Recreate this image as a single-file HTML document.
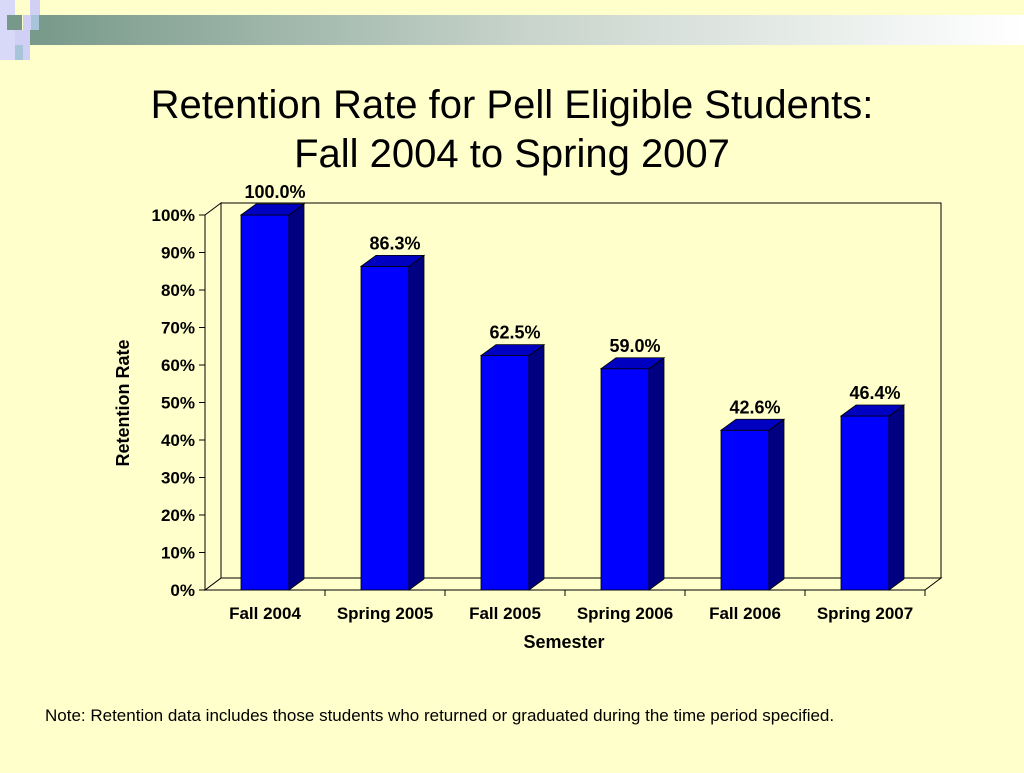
<!DOCTYPE html>
<html><head><meta charset="utf-8"><style>
body{margin:0;background:#ffffcc;width:1024px;height:768px;overflow:hidden;font-family:"Liberation Sans",sans-serif}
</style></head><body>
<svg width="1024" height="768">
<defs><linearGradient id="g" x1="0" x2="1"><stop offset="0" stop-color="#77998a"/><stop offset="0.5" stop-color="#c8d4cc"/><stop offset="1" stop-color="#ffffff"/></linearGradient></defs>
<g>
<rect x="30" y="15" width="994" height="30" fill="url(#g)"/>
<rect x="0" y="0" width="15" height="60" fill="#d8d8f8"/>
<rect x="7" y="15" width="15" height="15" fill="#77998a"/>
<rect x="15" y="30" width="15" height="30" fill="#d0d0f4"/>
<rect x="30" y="0" width="10" height="15" fill="#d0d0f4"/>
<rect x="23" y="15" width="8" height="15" fill="#d0d0f4"/>
<rect x="31" y="15" width="8" height="15" fill="#a8c4d8"/>
<rect x="15" y="45" width="8" height="15" fill="#a8c4d8"/>
</g>
<text x="512" y="118" text-anchor="middle" font-size="40">Retention Rate for Pell Eligible Students:</text>
<text x="512" y="167" text-anchor="middle" font-size="40">Fall 2004 to Spring 2007</text>
<g id="chart"></g>
<text x="129" y="403" transform="rotate(-90 129 403)" text-anchor="middle" font-size="18" font-weight="bold">Retention Rate</text>
<text x="564" y="648" text-anchor="middle" font-size="18" font-weight="bold">Semester</text>
<text x="45" y="721" font-size="17">Note: Retention data includes those students who returned or graduated during the time period specified.</text>
</svg>
<script>
const categories=["Fall 2004","Spring 2005","Fall 2005","Spring 2006","Fall 2006","Spring 2007"];
const values=[100.0,86.3,62.5,59.0,42.6,46.4];
const yTicks=[0,10,20,30,40,50,60,70,80,90,100];
const X0=205,W=720,Y0=590,H=375,DX=16,DY=12;
const ns="http://www.w3.org/2000/svg";
const g=document.getElementById('chart');
function y(v){return Y0-v/100*H;}
function xc(i){return X0+W/categories.length*(i+0.5);}
function mk(t,a,p){const e=document.createElementNS(ns,t);for(const k in a)e.setAttribute(k,a[k]);(p||g).appendChild(e);return e;}
let e;
e=mk('polygon',{points:`${X0+DX},${y(100)-DY} ${X0+W+DX},${y(100)-DY} ${X0+W+DX},${Y0-DY} ${X0+DX},${Y0-DY}`,fill:'#ffffcc',stroke:'#000'});


e=mk('polygon',{points:`${X0},${Y0} ${X0+DX},${Y0-DY} ${X0+W+DX},${Y0-DY} ${X0+W},${Y0}`,fill:'#ffffcc',stroke:'#000'});


e=mk('polygon',{points:`${X0},${Y0} ${X0+DX},${Y0-DY} ${X0+DX},${y(100)-DY} ${X0},${y(100)}`,fill:'#ffffcc',stroke:'#000'});


mk('line',{x1:X0,y1:Y0,x2:X0,y2:y(100),stroke:'#000'});
mk('line',{x1:X0,y1:Y0,x2:X0+W,y2:Y0,stroke:'#000'});
yTicks.forEach(v=>{
 mk('line',{x1:X0-6,y1:y(v),x2:X0,y2:y(v),stroke:'#000'});
 const t=mk('text',{x:X0-10,y:y(v)+6,'text-anchor':'end','font-size':17,'font-weight':'bold'});
 t.textContent=v+'%';
 
 
});
categories.forEach((c,i)=>{
 const xe=X0+W/categories.length*(i+1);
 mk('line',{x1:xe,y1:Y0,x2:xe,y2:Y0+6,stroke:'#000'});
 const t=mk('text',{x:xc(i),y:619,'text-anchor':'middle','font-size':17,'font-weight':'bold'});
 t.textContent=c;
 
 
 const bw=48,bx=xc(i)-bw/2,by=y(values[i]),d=15,dy=11;
 const bar=mk('g',{});
 
 
 mk('rect',{x:bx,y:by,width:bw,height:Y0-by,fill:'#0000ff',stroke:'#000','stroke-width':0.8},bar);
 mk('polygon',{points:`${bx+bw},${by} ${bx+bw+d},${by-dy} ${bx+bw+d},${Y0-dy} ${bx+bw},${Y0}`,fill:'#000080',stroke:'#000','stroke-width':0.8},bar);
 mk('polygon',{points:`${bx},${by} ${bx+d},${by-dy} ${bx+bw+d},${by-dy} ${bx+bw},${by}`,fill:'#0000c0',stroke:'#000','stroke-width':0.8},bar);
 const l=mk('text',{x:xc(i)+10,y:by-17,'text-anchor':'middle','font-size':18,'font-weight':'bold'});
 l.textContent=values[i].toFixed(1)+'%';
 
 
});
</script>
</body></html>
